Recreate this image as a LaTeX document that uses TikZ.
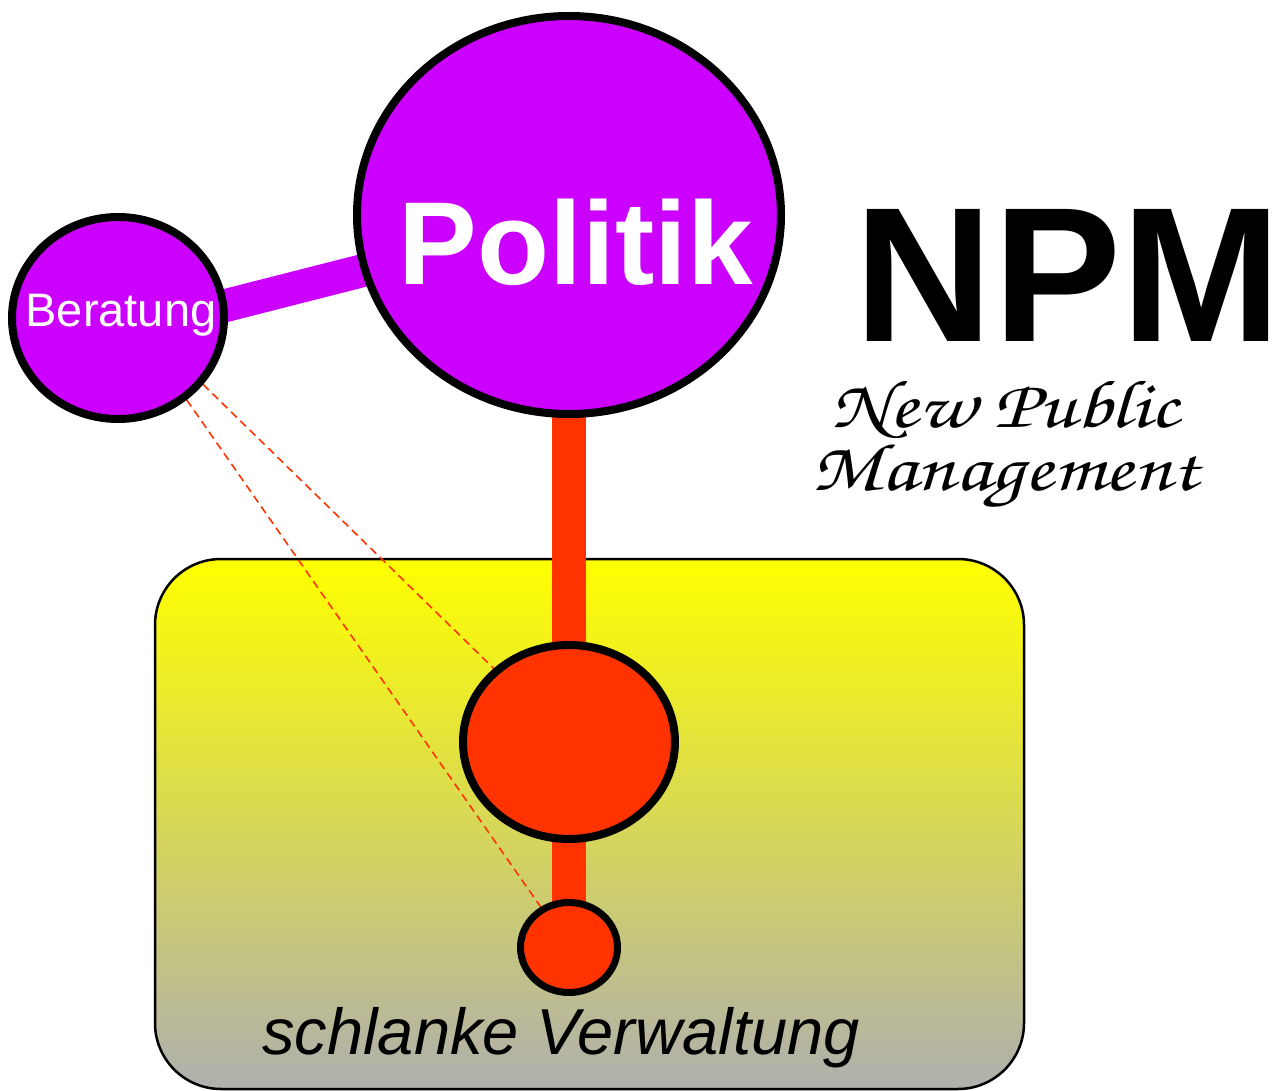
\documentclass[tikz,border=0pt]{standalone}
\usepackage[T1]{fontenc}
\usepackage{fontspec}
\usepackage{graphicx}
\newfontfamily\hv{Liberation Sans}
\newcommand{\scriptfnt}{\fontencoding{T1}\fontfamily{pzc}\fontseries{mb}\fontshape{it}\selectfont}
\usetikzlibrary{shapes.geometric}
\definecolor{npmpurple}{HTML}{CC00FF}
\definecolor{npmred}{HTML}{FF3300}
\definecolor{npmgray}{HTML}{AFAFAF}
\pgfdeclarelayer{bgzero}
\pgfdeclarelayer{bgone}
\pgfsetlayers{bgzero,bgone,main}
\tikzset{
  blob/.style={ellipse, draw=black, inner sep=0pt},
  purpleblob/.style={blob, fill=npmpurple, line width=8},
  redblob/.style={blob, fill=npmred, line width=8},
  thickpurple/.style={draw=npmpurple, line width=33},
  thickred/.style={draw=npmred, line width=34},
  dashlink/.style={draw=npmred, line width=1.6, dash pattern=on 8 off 5},
  lbl/.style={inner sep=0pt, anchor=base},
  scriptlbl/.style={lbl, font=\scriptfnt\fontsize{68}{80}\selectfont}
}
\begin{document}
\begin{tikzpicture}[x=1pt,y=-1pt]
\useasboundingbox (0,0) rectangle (1286,1091);
% nodes
\node[purpleblob, minimum width=424, minimum height=398] (pol) at (569,215) {};
\node[purpleblob, minimum width=212, minimum height=202] (ber) at (118,318) {};
\node[redblob, minimum width=212, minimum height=194] (mid) at (569,742) {};
\node[redblob, line width=7, minimum width=97, minimum height=90] (small) at (569,947.5) {};
\node[lbl, text=white, font=\hv\bfseries\fontsize{118}{140}\selectfont] (poltext) at (576,285) {Politik};
\node[lbl, text=white, font=\hv\fontsize{47}{56}\selectfont] (bertext) at (121,327) {Beratung};
\node[lbl, font=\hv\bfseries\fontsize{192}{230}\selectfont] (npm) at (1068,342) {NPM};
\node[scriptlbl] (npm1) at (1005,428) {\scalebox{1.23}[1]{New Public}};
\node[scriptlbl] (npm2) at (1005,490) {\scalebox{1.23}[1]{Management}};
\node[lbl, font=\hv\itshape\fontsize{65}{76}\selectfont] (lean) at (561,1054) {schlanke Verwaltung};
% background box
\begin{pgfonlayer}{bgzero}
\draw[line width=2.5, rounded corners=66, top color=yellow, bottom color=npmgray, middle color=yellow!50!npmgray] (155,559) rectangle (1024,1089);
\end{pgfonlayer}
% connectors
\begin{pgfonlayer}{bgone}
\draw[thickpurple] ([yshift=-15pt]ber.center) -- ([yshift=-3pt]pol.center);
\draw[thickred] (pol.center) -- (small.center);
\draw[dashlink] (ber.-38) -- (mid);
\draw[dashlink] (ber.-50) -- (small);
\end{pgfonlayer}
\end{tikzpicture}
\end{document}
